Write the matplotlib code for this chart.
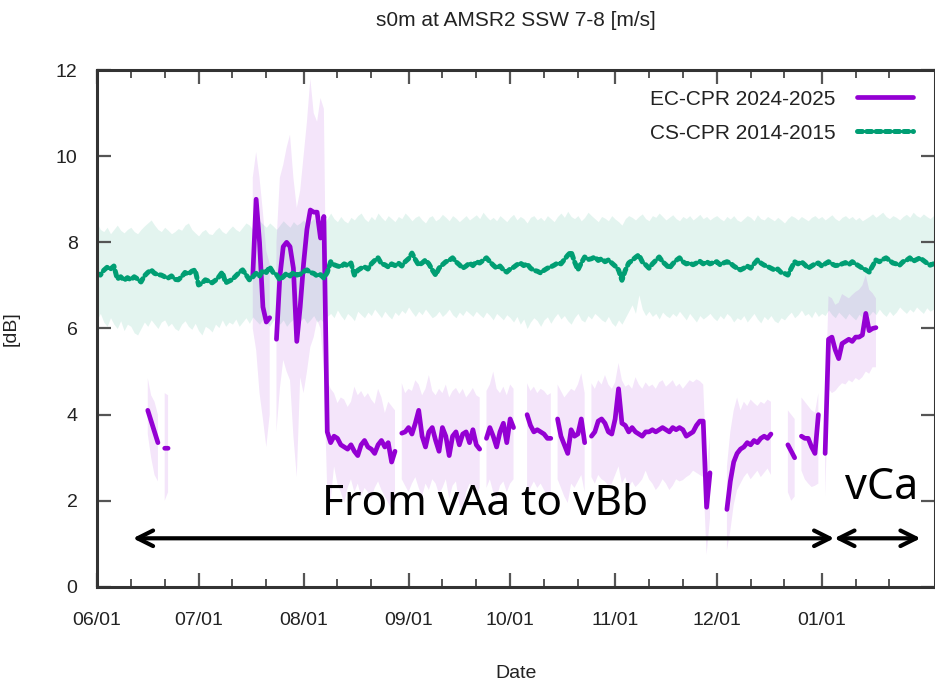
import numpy as np
import matplotlib
matplotlib.use('Agg')
import matplotlib.pyplot as plt
import matplotlib.dates as mdates

nan = np.nan

# daily values starting 2024-06-01
start_date = '2024-06-01'

cs_mean = [
    7.28, 7.24, 7.35, 7.42, 7.38, 7.45, 7.15, 7.20, 7.12, 7.18,
    7.13, 7.20, 7.15, 7.08, 7.22, 7.30, 7.36, 7.28, 7.25, 7.24,
    7.20, 7.17, 7.22, 7.14, 7.13, 7.20, 7.30, 7.26, 7.33, 7.36,
    7.01, 7.05, 7.13, 7.10, 7.06, 7.12, 7.20, 7.31, 7.06, 7.10,
    7.14, 7.22, 7.30, 7.36, 7.25, 7.13, 7.20, 7.28, 7.22, 7.35,
    7.30, 7.43, 7.30, 7.25, 7.13, 7.20, 7.28, 7.22, 7.30, 7.24,
    7.26, 7.32, 7.36, 7.30, 7.28, 7.22, 7.25, 7.17, 7.30, 7.55,
    7.48, 7.45, 7.43, 7.50, 7.46, 7.52, 7.24, 7.35, 7.40, 7.43,
    7.38, 7.50, 7.58, 7.64, 7.50, 7.48, 7.43, 7.50, 7.46, 7.52,
    7.45, 7.55, 7.62, 7.75, 7.60, 7.47, 7.52, 7.59, 7.50, 7.36,
    7.24, 7.40, 7.48, 7.55, 7.58, 7.64, 7.55, 7.48, 7.40, 7.45,
    7.52, 7.46, 7.55, 7.52, 7.58, 7.64, 7.55, 7.47, 7.40, 7.45,
    7.36, 7.31, 7.38, 7.42, 7.48, 7.52, 7.46, 7.50, 7.40, 7.35,
    7.33, 7.29, 7.35, 7.40, 7.43, 7.47, 7.52, 7.50, 7.60, 7.70,
    7.78, 7.55, 7.36, 7.52, 7.66, 7.60, 7.62, 7.66, 7.58, 7.62,
    7.55, 7.59, 7.52, 7.45, 7.36, 7.12, 7.35, 7.52, 7.58, 7.65,
    7.71, 7.55, 7.48, 7.40, 7.50, 7.58, 7.66, 7.55, 7.48, 7.40,
    7.50, 7.58, 7.64, 7.55, 7.50, 7.52, 7.48, 7.52, 7.56, 7.50,
    7.55, 7.50, 7.53, 7.55, 7.48, 7.52, 7.55, 7.52, 7.45, 7.40,
    7.36, 7.40, 7.45, 7.40, 7.50, 7.59, 7.52, 7.47, 7.44, 7.40,
    7.36, 7.38, 7.30, 7.28, 7.24, 7.40, 7.55, 7.50, 7.55, 7.48,
    7.40, 7.45, 7.50, 7.52, 7.45, 7.50, 7.55, 7.50, 7.46, 7.47,
    7.50, 7.53, 7.48, 7.55, 7.50, 7.45, 7.40, 7.36, 7.31, 7.45,
    7.59, 7.55, 7.60, 7.64, 7.58, 7.52, 7.50, 7.47, 7.55, 7.58,
    7.64, 7.56, 7.60, 7.64, 7.58, 7.52, 7.47, 7.50,
]
cs_upper = [
    8.45, 8.30, 8.25, 8.35, 8.20, 8.30, 8.40, 8.28, 8.22, 8.30,
    8.35, 8.25, 8.20, 8.30, 8.38, 8.45, 8.52, 8.40, 8.30, 8.25,
    8.35, 8.28, 8.20, 8.25, 8.32, 8.28, 8.40, 8.45, 8.30, 8.22,
    8.15, 8.25, 8.30, 8.20, 8.18, 8.28, 8.35, 8.25, 8.20, 8.30,
    8.38, 8.30, 8.25, 8.35, 8.45, 8.40, 8.30, 8.38, 8.50, 8.42,
    8.35, 8.45, 8.38, 8.30, 8.40, 8.50, 8.42, 8.35, 8.48, 8.40,
    8.45, 8.52, 8.40, 8.48, 8.55, 8.45, 8.50, 8.42, 8.55, 8.68,
    8.55, 8.48, 8.60, 8.50, 8.45, 8.58, 8.52, 8.62, 8.68, 8.55,
    8.48, 8.60, 8.52, 8.68, 8.58, 8.50, 8.62, 8.55, 8.48, 8.60,
    8.55, 8.68, 8.60, 8.50, 8.58, 8.62, 8.52, 8.45, 8.58, 8.62,
    8.50, 8.55, 8.65, 8.58, 8.50, 8.62, 8.56, 8.48, 8.55, 8.62,
    8.52, 8.58, 8.64, 8.55, 8.70, 8.60, 8.52, 8.58, 8.50, 8.62,
    8.55, 8.48, 8.58, 8.65, 8.52, 8.60, 8.55, 8.45, 8.58, 8.62,
    8.52, 8.58, 8.50, 8.62, 8.55, 8.48, 8.60, 8.68, 8.58, 8.72,
    8.60, 8.55, 8.62, 8.50, 8.58, 8.70, 8.62, 8.55, 8.48, 8.60,
    8.56, 8.50, 8.62, 8.54, 8.48, 8.40, 8.55, 8.62, 8.58, 8.52,
    8.60, 8.66, 8.55, 8.50, 8.62, 8.58, 8.68, 8.60, 8.52, 8.58,
    8.64, 8.55, 8.50, 8.60, 8.55, 8.62, 8.52, 8.58, 8.65, 8.55,
    8.60, 8.52, 8.58, 8.62, 8.55, 8.50, 8.60, 8.54, 8.62, 8.52,
    8.48, 8.55, 8.62, 8.58, 8.50, 8.64, 8.55, 8.52, 8.60, 8.55,
    8.50, 8.58, 8.52, 8.45, 8.55, 8.62, 8.58, 8.52, 8.60, 8.55,
    8.50, 8.58, 8.62, 8.55, 8.60, 8.52, 8.58, 8.64, 8.55, 8.50,
    8.58, 8.62, 8.55, 8.60, 8.52, 8.58, 8.50, 8.55, 8.60, 8.66,
    8.58, 8.64, 8.70, 8.60, 8.55, 8.62, 8.58, 8.52, 8.60, 8.65,
    8.58, 8.70, 8.62, 8.58, 8.66, 8.60, 8.55, 8.62,
]
cs_lower = [
    6.20, 6.35, 6.15, 6.05, 6.25, 6.10, 6.00, 6.18, 5.95, 6.10,
    6.05, 5.90, 5.85, 6.00, 6.15, 6.05, 6.20, 6.10, 6.00, 6.15,
    6.20, 6.05, 6.12, 6.00, 5.95, 6.10, 6.18, 6.05, 5.98, 6.12,
    5.95, 5.85, 6.05, 6.00, 5.92, 6.10, 6.02, 6.20, 6.05, 6.15,
    6.10, 6.22, 6.05, 6.15, 6.25, 6.12, 6.27, 6.18, 6.10, 6.22,
    6.15, 6.05, 6.18, 6.25, 6.10, 6.20, 6.05, 6.15, 6.22, 6.10,
    6.18, 6.25, 6.12, 6.20, 6.30, 6.15, 6.22, 6.13, 6.28, 6.35,
    6.25, 6.43, 6.30, 6.20, 6.35, 6.28, 6.18, 6.40, 6.32, 6.25,
    6.38, 6.30, 6.45, 6.35, 6.25, 6.40, 6.30, 6.22, 6.38, 6.30,
    6.42, 6.35, 6.50, 6.38, 6.28, 6.40, 6.32, 6.45, 6.35, 6.25,
    6.30, 6.40, 6.28, 6.35, 6.45, 6.32, 6.25, 6.38, 6.30, 6.42,
    6.35, 6.28, 6.40, 6.32, 6.25, 6.38, 6.30, 6.20, 6.35, 6.28,
    6.20, 6.32, 6.25, 6.15, 6.28, 6.10, 6.22, 6.00, 6.15, 6.25,
    6.18, 6.05, 6.20, 6.27, 6.12, 6.25, 6.35, 6.22, 6.30, 6.18,
    6.10, 6.25, 6.35, 6.20, 6.15, 6.30, 6.22, 6.35, 6.28, 6.20,
    6.15, 6.28, 6.13, 6.05, 6.20, 6.10, 6.25, 6.40, 6.55, 6.35,
    6.78, 6.45, 6.30, 6.40, 6.28, 6.35, 6.22, 6.38, 6.30, 6.25,
    6.35, 6.28, 6.40, 6.30, 6.20, 6.35, 6.25, 6.15, 6.30, 6.22,
    6.28, 6.35, 6.25, 6.18, 6.30, 6.22, 6.35, 6.28, 6.15, 6.25,
    6.20, 6.30, 6.15, 6.25, 6.35, 6.22, 6.13, 6.28, 6.20, 6.30,
    6.18, 6.13, 6.25, 6.20, 6.30, 6.38, 6.25, 6.32, 6.43, 6.30,
    6.35, 6.25, 6.40, 6.28, 6.35, 6.30, 6.43, 6.32, 6.25, 6.38,
    6.30, 6.22, 6.35, 6.27, 6.20, 6.33, 6.25, 6.35, 6.30, 6.40,
    6.32, 6.45, 6.35, 6.28, 6.40, 6.30, 6.38, 6.50, 6.42, 6.35,
    6.45, 6.38, 6.50, 6.42, 6.35, 6.48, 6.40, 6.45,
]

ec_mean = [
    nan, nan, nan, nan, nan, nan, nan, nan, nan, nan,
    nan, nan, nan, nan, nan, 4.10, 3.85, 3.60, 3.35, nan,
    3.22, 3.22, nan, nan, nan, nan, nan, nan, nan, nan,
    nan, nan, nan, nan, nan, nan, nan, nan, nan, nan,
    nan, nan, nan, nan, nan, nan, 7.20, 9.00, 8.00, 6.50,
    6.15, 6.25, nan, 5.75, 7.20, 7.90, 8.00, 7.90, 7.40, 5.70,
    6.50, 7.50, 8.30, 8.75, 8.70, 8.70, 8.10, 8.60, 3.60, 3.35,
    3.50, 3.45, 3.30, 3.25, 3.20, 3.30, 3.15, 3.05, 3.30, 3.40,
    3.25, 3.20, 3.10, 3.30, 3.40, 3.25, 3.35, 2.90, 3.15, nan,
    3.57, 3.60, 3.70, 3.55, 3.80, 4.10, 3.50, 3.25, 3.60, 3.70,
    3.40, 3.15, 3.70, 3.50, 3.05, 3.50, 3.60, 3.30, 3.55, 3.60,
    3.35, 3.65, 3.30, 3.20, nan, 3.45, 3.70, 3.50, 3.25, 3.60,
    3.80, 3.35, 3.90, 3.70, nan, nan, nan, 4.00, 3.75, 3.60,
    3.65, 3.60, 3.55, 3.45, 3.45, nan, 3.90, 3.50, 3.30, 3.10,
    3.65, 3.50, 3.55, 3.90, 3.35, nan, 3.50, 3.60, 3.85, 3.90,
    3.80, 3.60, 3.55, 3.90, 4.60, 3.80, 3.75, 3.60, 3.70, 3.60,
    3.55, 3.50, 3.60, 3.60, 3.65, 3.60, 3.65, 3.70, 3.65, 3.60,
    3.70, 3.65, 3.70, 3.65, 3.50, 3.55, 3.60, 3.75, 3.85, 3.85,
    1.85, 2.65, nan, nan, nan, nan, 1.80, 2.45, 2.90, 3.10,
    3.20, 3.25, 3.35, 3.30, 3.40, 3.35, 3.45, 3.50, 3.45, 3.55,
    nan, nan, nan, nan, 3.30, 3.15, 3.00, nan, 3.50, 3.45,
    3.45, 3.25, 3.10, 4.00, nan, 3.10, 5.75, 5.80, 5.50, 5.30,
    5.65, 5.70, 5.75, 5.70, 5.80, 5.80, 5.85, 6.35, 5.95, 6.00,
    6.02, nan, nan, nan, nan, nan, nan, nan, nan, nan,
    nan, nan, nan, nan, nan, nan, nan, nan,
]
ec_upper = [
    nan, nan, nan, nan, nan, nan, nan, nan, nan, nan,
    nan, nan, nan, nan, nan, 4.85, 4.45, 4.30, 4.00, nan,
    4.50, 4.45, nan, nan, nan, nan, nan, nan, nan, nan,
    nan, nan, nan, nan, nan, nan, nan, nan, nan, nan,
    nan, nan, nan, nan, nan, nan, 9.50, 10.10, 9.50, 8.70,
    7.80, 7.50, nan, 8.00, 9.50, 9.80, 10.20, 10.50, 9.50, 8.80,
    9.20, 10.00, 10.80, 11.80, 11.00, 10.80, 11.35, 11.10, 4.80, 4.60,
    4.50, 4.27, 4.40, 4.35, 4.18, 4.30, 4.65, 4.45, 4.55, 4.40,
    4.50, 4.35, 4.25, 4.60, 4.40, 4.04, 4.30, 4.20, 4.10, nan,
    4.73, 4.50, 4.60, 4.55, 4.80, 4.70, 4.45, 4.60, 4.92, 4.55,
    4.45, 4.60, 4.50, 4.70, 4.40, 4.55, 4.62, 4.48, 4.60, 4.40,
    4.50, 4.62, 4.45, 4.40, nan, 4.55, 4.70, 5.00, 4.60, 4.50,
    4.65, 4.45, 4.70, 4.60, nan, nan, nan, 4.73, 4.55, 4.65,
    4.50, 4.60, 4.55, 4.45, 4.50, nan, 4.70, 4.55, 4.40, 4.50,
    4.60, 4.55, 4.70, 4.96, 4.50, nan, 4.73, 4.60, 4.80, 4.70,
    4.92, 4.70, 4.60, 4.75, 5.20, 4.80, 4.65, 4.70, 4.60, 4.87,
    4.70, 4.60, 4.75, 4.65, 4.70, 4.60, 4.75, 4.80, 4.65, 4.72,
    4.80, 4.65, 4.72, 4.60, 4.70, 4.80, 4.75, 4.82, 4.78, 4.70,
    2.80, 3.50, nan, nan, nan, nan, 2.80, 3.60, 4.10, 4.40,
    4.10, 4.30, 4.20, 4.35, 4.27, 4.20, 4.30, 4.25, 4.35, 4.30,
    nan, nan, nan, nan, 4.10, 4.00, 3.90, nan, 4.40, 4.30,
    4.20, 4.10, 4.05, 4.50, nan, 4.10, 6.75, 6.70, 6.55, 6.60,
    6.80, 6.75, 6.70, 6.78, 6.85, 6.90, 7.00, 7.24, 6.90, 6.82,
    6.70, nan, nan, nan, nan, nan, nan, nan, nan, nan,
    nan, nan, nan, nan, nan, nan, nan, nan,
]
ec_lower = [
    nan, nan, nan, nan, nan, nan, nan, nan, nan, nan,
    nan, nan, nan, nan, nan, 3.55, 3.00, 2.60, 2.45, nan,
    2.00, 2.20, nan, nan, nan, nan, nan, nan, nan, nan,
    nan, nan, nan, nan, nan, nan, nan, nan, nan, nan,
    nan, nan, nan, nan, nan, nan, 6.00, 5.50, 4.50, 3.90,
    3.25, 4.00, nan, 3.60, 4.60, 5.27, 5.00, 4.80, 3.50, 2.55,
    4.87, 4.50, 5.00, 5.57, 5.80, 6.20, 6.00, 5.00, 2.20, 2.00,
    2.80, 2.40, 2.20, 1.95, 2.30, 2.50, 2.20, 2.40, 2.10, 2.30,
    2.20, 2.05, 2.30, 2.45, 2.25, 2.10, 1.95, 1.80, 2.00, nan,
    2.50, 2.35, 2.20, 2.40, 2.55, 2.30, 2.10, 2.40, 2.25, 2.50,
    2.40, 2.15, 2.30, 2.50, 2.05, 2.35, 2.45, 1.90, 1.72, 2.20,
    2.40, 2.20, 2.10, 2.30, nan, 2.30, 2.50, 2.20, 2.05, 2.35,
    2.45, 2.20, 2.40, 2.50, nan, nan, nan, 2.00, 2.30, 2.45,
    2.30, 2.40, 2.25, 2.10, 2.20, nan, 2.50, 2.30, 2.10, 1.95,
    2.40, 2.30, 2.45, 2.60, 2.20, nan, 2.55, 2.40, 2.60, 2.50,
    2.45, 2.35, 2.40, 2.60, 2.80, 2.40, 2.55, 2.30, 2.45, 2.32,
    2.40, 2.50, 2.70, 2.50, 2.40, 2.25, 2.35, 2.50, 2.40, 2.25,
    2.35, 2.50, 2.45, 2.48, 2.55, 2.60, 2.70, 2.65, 2.60, 2.55,
    0.75, 1.60, nan, nan, nan, nan, 0.85, 1.30, 1.90, 2.25,
    2.40, 2.55, 2.65, 2.50, 2.60, 2.70, 2.55, 2.65, 2.75, 2.60,
    nan, nan, nan, nan, 2.20, 2.00, 2.10, nan, 2.70, 2.50,
    2.40, 2.32, 2.35, 2.40, nan, 2.10, 4.60, 4.50, 4.55, 4.65,
    4.73, 4.70, 4.80, 4.75, 4.85, 4.80, 4.87, 5.00, 4.95, 5.10,
    5.10, nan, nan, nan, nan, nan, nan, nan, nan, nan,
    nan, nan, nan, nan, nan, nan, nan, nan,
]

ec_color = '#9400d3'
cs_color = '#009e73'

t0 = mdates.date2num(np.datetime64(start_date))
x = t0 + np.arange(len(cs_mean))

plt.rcParams['font.family'] = ['Liberation Sans', 'DejaVu Sans']

fig = plt.figure(figsize=(9.35, 6.85), dpi=100)
ax = fig.add_axes([0.1037, 0.1431, 0.8958, 0.7547])

ax.fill_between(x, cs_lower, cs_upper, color=cs_color, alpha=0.11, lw=0)
ax.fill_between(x, ec_lower, ec_upper, color=ec_color, alpha=0.10, lw=0)
ax.plot(x, ec_mean, color=ec_color, lw=3.4, solid_capstyle='round',
        solid_joinstyle='round', label='EC-CPR 2024-2025')
ax.plot(x, cs_mean, color=cs_color, lw=3.6, ls=(0, (1.0, 0.85)),
        dash_capstyle='round', label='CS-CPR 2014-2015')

ax.set_xlim(t0, t0 + 247.3)
ax.set_ylim(0, 12)
ax.set_yticks(np.arange(0, 13, 2))
ax.xaxis.set_major_locator(mdates.MonthLocator(bymonth=[6, 7, 8, 9, 10, 11, 12, 1]))
ax.xaxis.set_minor_locator(mdates.DayLocator(bymonthday=[11, 21]))
ax.xaxis.set_major_formatter(mdates.DateFormatter('%m/%d'))

ax.tick_params(which='both', direction='in', top=True, right=True,
               color='#555555', labelsize=14, labelcolor='#222222')
ax.tick_params(axis='x', which='major', length=10, width=1.6, pad=18)
ax.tick_params(axis='y', which='major', length=10, width=1.6, pad=14)
ax.tick_params(which='minor', length=6, width=1.4)
for s in ax.spines.values():
    s.set_linewidth(2.2)
    s.set_color('#333333')

ax.set_title('s0m at AMSR2 SSW 7-8 [m/s]', fontsize=15, pad=32, color='#222222')
ax.set_xlabel('Date', fontsize=14, labelpad=26, color='#222222')
ax.set_ylabel('[dB]', fontsize=14, labelpad=26, color='#222222')

leg = ax.legend(loc='upper right', bbox_to_anchor=(0.984, 0.978), frameon=False,
                markerfirst=False, handlelength=2.7, fontsize=15,
                labelspacing=0.72, borderaxespad=0, handletextpad=1.0)
for txt in leg.get_texts():
    txt.set_color('#222222')

# period arrows
arrow_y = 1.13
a0 = t0 + 10.6
a1 = t0 + 217.7
a2 = t0 + 243.2
ap = dict(arrowstyle='<->', lw=3, color='black', mutation_scale=28,
          shrinkA=0, shrinkB=0)
ax.annotate('', xy=(a0, arrow_y), xytext=(a1, arrow_y), arrowprops=ap)
ax.annotate('', xy=(a1, arrow_y), xytext=(a2, arrow_y), arrowprops=ap)
ax.text(t0 + 114.7, 1.68, 'From vAa to vBb', fontsize=30.5, ha='center',
        va='baseline', family='Noto Sans')
ax.text(t0 + 231.6, 2.05, 'vCa', fontsize=31, ha='center', va='baseline',
        family='Noto Sans')

fig.savefig('out.png', dpi=100)
